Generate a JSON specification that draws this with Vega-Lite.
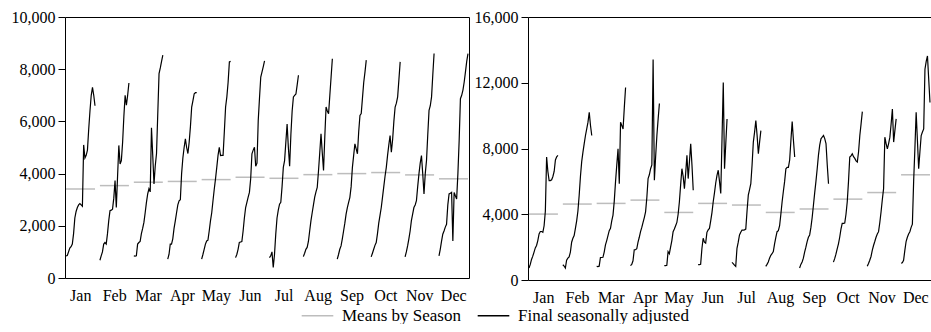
{
  "$schema": "https://vega.github.io/schema/vega-lite/v6.json",
  "padding": {"left": 10, "top": 8, "right": 0, "bottom": 0},
  "spacing": 2,
  "config": {
    "font": "Liberation Serif",
    "view": {"stroke": "#000000", "strokeWidth": 1},
    "axis": {"labelFont": "Liberation Serif", "labelFontSize": 16, "labelColor": "#000000", "grid": false, "title": null, "domain": false, "tickColor": "#000000"},
    "axisX": {"labelOverlap": false, "labelFlush": false, "ticks": false, "labelPadding": 9},
    "legend": {"labelFont": "Liberation Serif", "labelFontSize": 17, "labelColor": "#000000", "labelLimit": 400, "orient": "none", "legendX": 236, "legendY": 282, "direction": "horizontal", "title": null, "symbolType": "stroke", "symbolSize": 1000, "symbolStrokeWidth": 1.3, "columnPadding": 14, "labelOffset": 8}
  },
  "datasets": {
    "L": [
      {"m":0,"i":0,"v":850},{"m":0,"i":1,"v":860},{"m":0,"i":2,"v":1000},{"m":0,"i":3,"v":1150},{"m":0,"i":4,"v":1200},{"m":0,"i":5,"v":1300},{"m":0,"i":6,"v":1700},{"m":0,"i":7,"v":2300},{"m":0,"i":8,"v":2550},{"m":0,"i":9,"v":2700},{"m":0,"i":10,"v":2800},{"m":0,"i":11,"v":2850},{"m":0,"i":12,"v":2800},{"m":0,"i":13,"v":2750},{"m":0,"i":14,"v":5100},{"m":0,"i":15,"v":4600},{"m":0,"i":16,"v":4700},{"m":0,"i":17,"v":4900},{"m":0,"i":18,"v":5700},{"m":0,"i":19,"v":6400},{"m":0,"i":20,"v":7000},{"m":0,"i":21,"v":7300},{"m":0,"i":22,"v":7000},{"m":0,"i":23,"v":6600},
      {"m":1,"i":0,"v":680},{"m":1,"i":1,"v":850},{"m":1,"i":2,"v":1000},{"m":1,"i":3,"v":1300},{"m":1,"i":4,"v":1360},{"m":1,"i":5,"v":1300},{"m":1,"i":6,"v":1700},{"m":1,"i":7,"v":2200},{"m":1,"i":8,"v":2580},{"m":1,"i":9,"v":2600},{"m":1,"i":10,"v":2640},{"m":1,"i":11,"v":3060},{"m":1,"i":12,"v":3730},{"m":1,"i":13,"v":2700},{"m":1,"i":14,"v":3900},{"m":1,"i":15,"v":5080},{"m":1,"i":16,"v":4370},{"m":1,"i":17,"v":4500},{"m":1,"i":18,"v":5200},{"m":1,"i":19,"v":6200},{"m":1,"i":20,"v":7000},{"m":1,"i":21,"v":6620},{"m":1,"i":22,"v":7000},{"m":1,"i":23,"v":7470},
      {"m":2,"i":0,"v":850},{"m":2,"i":1,"v":840},{"m":2,"i":2,"v":850},{"m":2,"i":3,"v":1300},{"m":2,"i":4,"v":1360},{"m":2,"i":5,"v":1400},{"m":2,"i":6,"v":1700},{"m":2,"i":7,"v":1900},{"m":2,"i":8,"v":2130},{"m":2,"i":9,"v":2500},{"m":2,"i":10,"v":2900},{"m":2,"i":11,"v":3220},{"m":2,"i":12,"v":3420},{"m":2,"i":13,"v":3300},{"m":2,"i":14,"v":5760},{"m":2,"i":15,"v":4700},{"m":2,"i":16,"v":3600},{"m":2,"i":17,"v":4300},{"m":2,"i":18,"v":4770},{"m":2,"i":19,"v":6300},{"m":2,"i":20,"v":7830},{"m":2,"i":21,"v":8050},{"m":2,"i":22,"v":8300},{"m":2,"i":23,"v":8540},
      {"m":3,"i":0,"v":720},{"m":3,"i":1,"v":900},{"m":3,"i":2,"v":1300},{"m":3,"i":3,"v":1300},{"m":3,"i":4,"v":1500},{"m":3,"i":5,"v":1900},{"m":3,"i":6,"v":2190},{"m":3,"i":7,"v":2500},{"m":3,"i":8,"v":2800},{"m":3,"i":9,"v":2960},{"m":3,"i":10,"v":3000},{"m":3,"i":11,"v":4000},{"m":3,"i":12,"v":4600},{"m":3,"i":13,"v":5000},{"m":3,"i":14,"v":5330},{"m":3,"i":15,"v":5000},{"m":3,"i":16,"v":4770},{"m":3,"i":17,"v":5200},{"m":3,"i":18,"v":5800},{"m":3,"i":19,"v":6550},{"m":3,"i":20,"v":6800},{"m":3,"i":21,"v":7060},{"m":3,"i":22,"v":7100},{"m":3,"i":23,"v":7100},
      {"m":4,"i":0,"v":720},{"m":4,"i":1,"v":900},{"m":4,"i":2,"v":1100},{"m":4,"i":3,"v":1300},{"m":4,"i":4,"v":1420},{"m":4,"i":5,"v":1450},{"m":4,"i":6,"v":1800},{"m":4,"i":7,"v":2190},{"m":4,"i":8,"v":2500},{"m":4,"i":9,"v":2960},{"m":4,"i":10,"v":3400},{"m":4,"i":11,"v":3800},{"m":4,"i":12,"v":4240},{"m":4,"i":13,"v":4700},{"m":4,"i":14,"v":5010},{"m":4,"i":15,"v":4690},{"m":4,"i":16,"v":4700},{"m":4,"i":17,"v":4700},{"m":4,"i":18,"v":5600},{"m":4,"i":19,"v":6550},{"m":4,"i":20,"v":6940},{"m":4,"i":21,"v":7500},{"m":4,"i":22,"v":8280},{"m":4,"i":23,"v":8300},
      {"m":5,"i":0,"v":780},{"m":5,"i":1,"v":900},{"m":5,"i":2,"v":1100},{"m":5,"i":3,"v":1360},{"m":5,"i":4,"v":1380},{"m":5,"i":5,"v":1400},{"m":5,"i":6,"v":1800},{"m":5,"i":7,"v":2300},{"m":5,"i":8,"v":2700},{"m":5,"i":9,"v":2900},{"m":5,"i":10,"v":3100},{"m":5,"i":11,"v":3280},{"m":5,"i":12,"v":3800},{"m":5,"i":13,"v":4760},{"m":5,"i":14,"v":4900},{"m":5,"i":15,"v":5010},{"m":5,"i":16,"v":4280},{"m":5,"i":17,"v":4400},{"m":5,"i":18,"v":6040},{"m":5,"i":19,"v":6900},{"m":5,"i":20,"v":7700},{"m":5,"i":21,"v":7900},{"m":5,"i":22,"v":8100},{"m":5,"i":23,"v":8320},
      {"m":6,"i":0,"v":780},{"m":6,"i":1,"v":850},{"m":6,"i":2,"v":1000},{"m":6,"i":3,"v":400},{"m":6,"i":4,"v":900},{"m":6,"i":5,"v":1680},{"m":6,"i":6,"v":2300},{"m":6,"i":7,"v":2600},{"m":6,"i":8,"v":2830},{"m":6,"i":9,"v":2900},{"m":6,"i":10,"v":3500},{"m":6,"i":11,"v":4240},{"m":6,"i":12,"v":4500},{"m":6,"i":13,"v":5200},{"m":6,"i":14,"v":5900},{"m":6,"i":15,"v":5000},{"m":6,"i":16,"v":4280},{"m":6,"i":17,"v":5500},{"m":6,"i":18,"v":6400},{"m":6,"i":19,"v":6940},{"m":6,"i":20,"v":7000},{"m":6,"i":21,"v":7050},{"m":6,"i":22,"v":7400},{"m":6,"i":23,"v":7770},
      {"m":7,"i":0,"v":820},{"m":7,"i":1,"v":950},{"m":7,"i":2,"v":1100},{"m":7,"i":3,"v":1170},{"m":7,"i":4,"v":1400},{"m":7,"i":5,"v":1800},{"m":7,"i":6,"v":2190},{"m":7,"i":7,"v":2500},{"m":7,"i":8,"v":2800},{"m":7,"i":9,"v":3100},{"m":7,"i":10,"v":3300},{"m":7,"i":11,"v":3470},{"m":7,"i":12,"v":4100},{"m":7,"i":13,"v":4800},{"m":7,"i":14,"v":5530},{"m":7,"i":15,"v":4800},{"m":7,"i":16,"v":4120},{"m":7,"i":17,"v":5400},{"m":7,"i":18,"v":6550},{"m":7,"i":19,"v":6400},{"m":7,"i":20,"v":6290},{"m":7,"i":21,"v":7000},{"m":7,"i":22,"v":7700},{"m":7,"i":23,"v":8400},
      {"m":8,"i":0,"v":720},{"m":8,"i":1,"v":900},{"m":8,"i":2,"v":1100},{"m":8,"i":3,"v":1230},{"m":8,"i":4,"v":1500},{"m":8,"i":5,"v":1800},{"m":8,"i":6,"v":2100},{"m":8,"i":7,"v":2450},{"m":8,"i":8,"v":2700},{"m":8,"i":9,"v":2900},{"m":8,"i":10,"v":3090},{"m":8,"i":11,"v":3500},{"m":8,"i":12,"v":4240},{"m":8,"i":13,"v":4700},{"m":8,"i":14,"v":5140},{"m":8,"i":15,"v":4950},{"m":8,"i":16,"v":4760},{"m":8,"i":17,"v":5600},{"m":8,"i":18,"v":6230},{"m":8,"i":19,"v":6300},{"m":8,"i":20,"v":6900},{"m":8,"i":21,"v":7500},{"m":8,"i":22,"v":7900},{"m":8,"i":23,"v":8350},
      {"m":9,"i":0,"v":810},{"m":9,"i":1,"v":950},{"m":9,"i":2,"v":1100},{"m":9,"i":3,"v":1250},{"m":9,"i":4,"v":1360},{"m":9,"i":5,"v":1700},{"m":9,"i":6,"v":2100},{"m":9,"i":7,"v":2400},{"m":9,"i":8,"v":2700},{"m":9,"i":9,"v":3100},{"m":9,"i":10,"v":3500},{"m":9,"i":11,"v":3900},{"m":9,"i":12,"v":4240},{"m":9,"i":13,"v":4700},{"m":9,"i":14,"v":5100},{"m":9,"i":15,"v":5460},{"m":9,"i":16,"v":4820},{"m":9,"i":17,"v":5300},{"m":9,"i":18,"v":6000},{"m":9,"i":19,"v":6550},{"m":9,"i":20,"v":6700},{"m":9,"i":21,"v":6940},{"m":9,"i":22,"v":7600},{"m":9,"i":23,"v":8280},
      {"m":10,"i":0,"v":810},{"m":10,"i":1,"v":1000},{"m":10,"i":2,"v":1230},{"m":10,"i":3,"v":1500},{"m":10,"i":4,"v":1800},{"m":10,"i":5,"v":2200},{"m":10,"i":6,"v":2450},{"m":10,"i":7,"v":2700},{"m":10,"i":8,"v":2800},{"m":10,"i":9,"v":2960},{"m":10,"i":10,"v":3500},{"m":10,"i":11,"v":3990},{"m":10,"i":12,"v":4400},{"m":10,"i":13,"v":4690},{"m":10,"i":14,"v":4000},{"m":10,"i":15,"v":3220},{"m":10,"i":16,"v":4000},{"m":10,"i":17,"v":4500},{"m":10,"i":18,"v":5500},{"m":10,"i":19,"v":6420},{"m":10,"i":20,"v":6600},{"m":10,"i":21,"v":6940},{"m":10,"i":22,"v":7800},{"m":10,"i":23,"v":8600},
      {"m":11,"i":0,"v":850},{"m":11,"i":1,"v":1100},{"m":11,"i":2,"v":1400},{"m":11,"i":3,"v":1680},{"m":11,"i":4,"v":1800},{"m":11,"i":5,"v":1950},{"m":11,"i":6,"v":2060},{"m":11,"i":7,"v":2800},{"m":11,"i":8,"v":3220},{"m":11,"i":9,"v":3250},{"m":11,"i":10,"v":3280},{"m":11,"i":11,"v":1420},{"m":11,"i":12,"v":3280},{"m":11,"i":13,"v":3150},{"m":11,"i":14,"v":3030},{"m":11,"i":15,"v":4000},{"m":11,"i":16,"v":5270},{"m":11,"i":17,"v":6870},{"m":11,"i":18,"v":7000},{"m":11,"i":19,"v":7200},{"m":11,"i":20,"v":7510},{"m":11,"i":21,"v":7900},{"m":11,"i":22,"v":8300},{"m":11,"i":23,"v":8600}
    ],
    "R": [
      {"m":0,"i":0,"v":730},{"m":0,"i":1,"v":950},{"m":0,"i":2,"v":1250},{"m":0,"i":3,"v":1450},{"m":0,"i":4,"v":1700},{"m":0,"i":5,"v":1950},{"m":0,"i":6,"v":2100},{"m":0,"i":7,"v":2400},{"m":0,"i":8,"v":2800},{"m":0,"i":9,"v":2950},{"m":0,"i":10,"v":2950},{"m":0,"i":11,"v":2900},{"m":0,"i":12,"v":3300},{"m":0,"i":13,"v":4200},{"m":0,"i":14,"v":7480},{"m":0,"i":15,"v":6600},{"m":0,"i":16,"v":6050},{"m":0,"i":17,"v":6050},{"m":0,"i":18,"v":6100},{"m":0,"i":19,"v":6300},{"m":0,"i":20,"v":6600},{"m":0,"i":21,"v":7300},{"m":0,"i":22,"v":7500},{"m":0,"i":23,"v":7580},
      {"m":1,"i":0,"v":930},{"m":1,"i":1,"v":850},{"m":1,"i":2,"v":730},{"m":1,"i":3,"v":1200},{"m":1,"i":4,"v":1330},{"m":1,"i":5,"v":1400},{"m":1,"i":6,"v":1700},{"m":1,"i":7,"v":2300},{"m":1,"i":8,"v":2540},{"m":1,"i":9,"v":2700},{"m":1,"i":10,"v":3140},{"m":1,"i":11,"v":3600},{"m":1,"i":12,"v":4200},{"m":1,"i":13,"v":5160},{"m":1,"i":14,"v":6300},{"m":1,"i":15,"v":7200},{"m":1,"i":16,"v":7780},{"m":1,"i":17,"v":8300},{"m":1,"i":18,"v":8790},{"m":1,"i":19,"v":9200},{"m":1,"i":20,"v":9600},{"m":1,"i":21,"v":10200},{"m":1,"i":22,"v":9400},{"m":1,"i":23,"v":8790},
      {"m":2,"i":0,"v":830},{"m":2,"i":1,"v":820},{"m":2,"i":2,"v":840},{"m":2,"i":3,"v":1370},{"m":2,"i":4,"v":1370},{"m":2,"i":5,"v":1380},{"m":2,"i":6,"v":1700},{"m":2,"i":7,"v":2140},{"m":2,"i":8,"v":2400},{"m":2,"i":9,"v":2700},{"m":2,"i":10,"v":3000},{"m":2,"i":11,"v":3140},{"m":2,"i":12,"v":3600},{"m":2,"i":13,"v":3950},{"m":2,"i":14,"v":4800},{"m":2,"i":15,"v":5970},{"m":2,"i":16,"v":7000},{"m":2,"i":17,"v":7980},{"m":2,"i":18,"v":5860},{"m":2,"i":19,"v":9600},{"m":2,"i":20,"v":9400},{"m":2,"i":21,"v":9190},{"m":2,"i":22,"v":10500},{"m":2,"i":23,"v":11710},
      {"m":3,"i":0,"v":870},{"m":3,"i":1,"v":950},{"m":3,"i":2,"v":1170},{"m":3,"i":3,"v":1840},{"m":3,"i":4,"v":1840},{"m":3,"i":5,"v":1900},{"m":3,"i":6,"v":2300},{"m":3,"i":7,"v":2600},{"m":3,"i":8,"v":2940},{"m":3,"i":9,"v":3200},{"m":3,"i":10,"v":3500},{"m":3,"i":11,"v":3800},{"m":3,"i":12,"v":4150},{"m":3,"i":13,"v":5000},{"m":3,"i":14,"v":6170},{"m":3,"i":15,"v":6400},{"m":3,"i":16,"v":6770},{"m":3,"i":17,"v":7000},{"m":3,"i":18,"v":13420},{"m":3,"i":19,"v":6070},{"m":3,"i":20,"v":7500},{"m":3,"i":21,"v":8790},{"m":3,"i":22,"v":9800},{"m":3,"i":23,"v":10740},
      {"m":4,"i":0,"v":870},{"m":4,"i":1,"v":880},{"m":4,"i":2,"v":900},{"m":4,"i":3,"v":1730},{"m":4,"i":4,"v":1600},{"m":4,"i":5,"v":2000},{"m":4,"i":6,"v":2400},{"m":4,"i":7,"v":2940},{"m":4,"i":8,"v":3100},{"m":4,"i":9,"v":3300},{"m":4,"i":10,"v":3500},{"m":4,"i":11,"v":4000},{"m":4,"i":12,"v":4760},{"m":4,"i":13,"v":5800},{"m":4,"i":14,"v":6770},{"m":4,"i":15,"v":6300},{"m":4,"i":16,"v":5560},{"m":4,"i":17,"v":6500},{"m":4,"i":18,"v":7580},{"m":4,"i":19,"v":6170},{"m":4,"i":20,"v":7200},{"m":4,"i":21,"v":8280},{"m":4,"i":22,"v":7000},{"m":4,"i":23,"v":5460},
      {"m":5,"i":0,"v":930},{"m":5,"i":1,"v":930},{"m":5,"i":2,"v":950},{"m":5,"i":3,"v":1900},{"m":5,"i":4,"v":2540},{"m":5,"i":5,"v":2300},{"m":5,"i":6,"v":2240},{"m":5,"i":7,"v":2900},{"m":5,"i":8,"v":3050},{"m":5,"i":9,"v":3140},{"m":5,"i":10,"v":3600},{"m":5,"i":11,"v":4100},{"m":5,"i":12,"v":4760},{"m":5,"i":13,"v":5300},{"m":5,"i":14,"v":5900},{"m":5,"i":15,"v":6370},{"m":5,"i":16,"v":6680},{"m":5,"i":17,"v":6000},{"m":5,"i":18,"v":5260},{"m":5,"i":19,"v":8600},{"m":5,"i":20,"v":12010},{"m":5,"i":21,"v":6770},{"m":5,"i":22,"v":8300},{"m":5,"i":23,"v":9800},
      {"m":6,"i":0,"v":1070},{"m":6,"i":1,"v":1000},{"m":6,"i":2,"v":900},{"m":6,"i":3,"v":830},{"m":6,"i":4,"v":1930},{"m":6,"i":5,"v":2300},{"m":6,"i":6,"v":2740},{"m":6,"i":7,"v":2900},{"m":6,"i":8,"v":3040},{"m":6,"i":9,"v":3040},{"m":6,"i":10,"v":3050},{"m":6,"i":11,"v":3100},{"m":6,"i":12,"v":4200},{"m":6,"i":13,"v":5160},{"m":6,"i":14,"v":5500},{"m":6,"i":15,"v":5860},{"m":6,"i":16,"v":7000},{"m":6,"i":17,"v":8390},{"m":6,"i":18,"v":9000},{"m":6,"i":19,"v":9700},{"m":6,"i":20,"v":8800},{"m":6,"i":21,"v":7680},{"m":6,"i":22,"v":8400},{"m":6,"i":23,"v":9090},
      {"m":7,"i":0,"v":830},{"m":7,"i":1,"v":950},{"m":7,"i":2,"v":1100},{"m":7,"i":3,"v":1330},{"m":7,"i":4,"v":1500},{"m":7,"i":5,"v":1600},{"m":7,"i":6,"v":1730},{"m":7,"i":7,"v":2200},{"m":7,"i":8,"v":2600},{"m":7,"i":9,"v":2940},{"m":7,"i":10,"v":3000},{"m":7,"i":11,"v":3300},{"m":7,"i":12,"v":4000},{"m":7,"i":13,"v":4760},{"m":7,"i":14,"v":5400},{"m":7,"i":15,"v":6000},{"m":7,"i":16,"v":6770},{"m":7,"i":17,"v":6850},{"m":7,"i":18,"v":6850},{"m":7,"i":19,"v":7300},{"m":7,"i":20,"v":8500},{"m":7,"i":21,"v":9640},{"m":7,"i":22,"v":8500},{"m":7,"i":23,"v":7480},
      {"m":8,"i":0,"v":730},{"m":8,"i":1,"v":950},{"m":8,"i":2,"v":1100},{"m":8,"i":3,"v":1330},{"m":8,"i":4,"v":1700},{"m":8,"i":5,"v":2000},{"m":8,"i":6,"v":2340},{"m":8,"i":7,"v":2600},{"m":8,"i":8,"v":2740},{"m":8,"i":9,"v":3200},{"m":8,"i":10,"v":3800},{"m":8,"i":11,"v":4550},{"m":8,"i":12,"v":5300},{"m":8,"i":13,"v":6000},{"m":8,"i":14,"v":6770},{"m":8,"i":15,"v":7600},{"m":8,"i":16,"v":8200},{"m":8,"i":17,"v":8590},{"m":8,"i":18,"v":8700},{"m":8,"i":19,"v":8790},{"m":8,"i":20,"v":8600},{"m":8,"i":21,"v":8300},{"m":8,"i":22,"v":7000},{"m":8,"i":23,"v":5860},
      {"m":9,"i":0,"v":1090},{"m":9,"i":1,"v":1300},{"m":9,"i":2,"v":1570},{"m":9,"i":3,"v":1900},{"m":9,"i":4,"v":2200},{"m":9,"i":5,"v":2600},{"m":9,"i":6,"v":3100},{"m":9,"i":7,"v":3450},{"m":9,"i":8,"v":3450},{"m":9,"i":9,"v":3470},{"m":9,"i":10,"v":4000},{"m":9,"i":11,"v":4760},{"m":9,"i":12,"v":6000},{"m":9,"i":13,"v":7480},{"m":9,"i":14,"v":7550},{"m":9,"i":15,"v":7680},{"m":9,"i":16,"v":7500},{"m":9,"i":17,"v":7400},{"m":9,"i":18,"v":7250},{"m":9,"i":19,"v":7180},{"m":9,"i":20,"v":7800},{"m":9,"i":21,"v":8790},{"m":9,"i":22,"v":9500},{"m":9,"i":23,"v":10240},
      {"m":10,"i":0,"v":830},{"m":10,"i":1,"v":1000},{"m":10,"i":2,"v":1200},{"m":10,"i":3,"v":1430},{"m":10,"i":4,"v":1800},{"m":10,"i":5,"v":2100},{"m":10,"i":6,"v":2340},{"m":10,"i":7,"v":2600},{"m":10,"i":8,"v":2800},{"m":10,"i":9,"v":2940},{"m":10,"i":10,"v":3500},{"m":10,"i":11,"v":4150},{"m":10,"i":12,"v":4900},{"m":10,"i":13,"v":5560},{"m":10,"i":14,"v":8690},{"m":10,"i":15,"v":8300},{"m":10,"i":16,"v":7980},{"m":10,"i":17,"v":8300},{"m":10,"i":18,"v":8690},{"m":10,"i":19,"v":9500},{"m":10,"i":20,"v":10400},{"m":10,"i":21,"v":8390},{"m":10,"i":22,"v":9100},{"m":10,"i":23,"v":9800},
      {"m":11,"i":0,"v":1030},{"m":11,"i":1,"v":1050},{"m":11,"i":2,"v":1200},{"m":11,"i":3,"v":1800},{"m":11,"i":4,"v":2340},{"m":11,"i":5,"v":2600},{"m":11,"i":6,"v":2800},{"m":11,"i":7,"v":2940},{"m":11,"i":8,"v":3200},{"m":11,"i":9,"v":3400},{"m":11,"i":10,"v":6000},{"m":11,"i":11,"v":8000},{"m":11,"i":12,"v":10200},{"m":11,"i":13,"v":8500},{"m":11,"i":14,"v":6770},{"m":11,"i":15,"v":7800},{"m":11,"i":16,"v":8790},{"m":11,"i":17,"v":9000},{"m":11,"i":18,"v":9190},{"m":11,"i":19,"v":12820},{"m":11,"i":20,"v":13300},{"m":11,"i":21,"v":13630},{"m":11,"i":22,"v":12200},{"m":11,"i":23,"v":10800}
    ],
    "LM": [
      {"m":0,"v":3410},{"m":1,"v":3540},{"m":2,"v":3670},{"m":3,"v":3700},{"m":4,"v":3770},{"m":5,"v":3860},{"m":6,"v":3820},{"m":7,"v":3960},{"m":8,"v":4000},{"m":9,"v":4040},{"m":10,"v":3950},{"m":11,"v":3800}
    ],
    "RM": [
      {"m":0,"v":4010},{"m":1,"v":4620},{"m":2,"v":4660},{"m":3,"v":4860},{"m":4,"v":4110},{"m":5,"v":4660},{"m":6,"v":4560},{"m":7,"v":4110},{"m":8,"v":4320},{"m":9,"v":4920},{"m":10,"v":5320},{"m":11,"v":6400}
    ]
  },
  "hconcat": [
    {
      "width": 404,
      "height": 261,
      "encoding": {
        "x": {"type": "quantitative", "scale": {"domain": [-0.03, 11.885], "nice": false, "zero": false},
              "axis": {"values": [0.42,1.42,2.42,3.42,4.42,5.42,6.42,7.42,8.42,9.42,10.42,11.42], "labelExpr": "['Jan','Feb','Mar','Apr','May','Jun','Jul','Aug','Sep','Oct','Nov','Dec'][round(datum.value - 0.42)]", "ticks": false, "labelPadding": 9, "labelOverlap": false, "labelFlush": false}},
        "y": {"field": "v", "type": "quantitative", "scale": {"domain": [0, 10000], "nice": false},
              "axis": {"values": [0,2000,4000,6000,8000,10000], "format": ",d", "tickSize": 7, "labelPadding": 3}}
      },
      "layer": [
        {
          "data": {"name": "LM"},
          "transform": [{"calculate": "datum.m", "as": "x"}, {"calculate": "datum.m + 0.855", "as": "x2"}],
          "mark": {"type": "rule", "strokeWidth": 1.5},
          "encoding": {
            "x": {"field": "x", "type": "quantitative"},
            "x2": {"field": "x2"},
            "color": {"datum": "Means by Season", "type": "nominal", "scale": {"domain": ["Means by Season", "Final seasonally adjusted"], "range": ["#bdbdbd", "#000000"]}}
          }
        },
        {
          "data": {"name": "L"},
          "transform": [{"calculate": "datum.m + datum.i * 0.855 / 23", "as": "x"}],
          "mark": {"type": "line", "strokeWidth": 1.2},
          "encoding": {
            "x": {"field": "x", "type": "quantitative"},
            "detail": {"field": "m", "type": "nominal"},
            "order": {"field": "i", "type": "quantitative"},
            "color": {"datum": "Final seasonally adjusted", "type": "nominal"}
          }
        }
      ]
    },
    {
      "width": 403,
      "height": 263,
      "encoding": {
        "x": {"type": "quantitative", "scale": {"domain": [-0.03, 11.885], "nice": false, "zero": false},
              "axis": {"values": [0.42,1.42,2.42,3.42,4.42,5.42,6.42,7.42,8.42,9.42,10.42,11.42], "labelExpr": "['Jan','Feb','Mar','Apr','May','Jun','Jul','Aug','Sep','Oct','Nov','Dec'][round(datum.value - 0.42)]", "ticks": false, "labelPadding": 9, "labelOverlap": false, "labelFlush": false}},
        "y": {"field": "v", "type": "quantitative", "scale": {"domain": [0, 16000], "nice": false},
              "axis": {"values": [0,4000,8000,12000,16000], "format": ",d", "tickSize": 7, "labelPadding": 3}}
      },
      "layer": [
        {
          "data": {"name": "RM"},
          "transform": [{"calculate": "datum.m", "as": "x"}, {"calculate": "datum.m + 0.855", "as": "x2"}],
          "mark": {"type": "rule", "strokeWidth": 1.5},
          "encoding": {
            "x": {"field": "x", "type": "quantitative"},
            "x2": {"field": "x2"},
            "color": {"datum": "Means by Season", "type": "nominal"}
          }
        },
        {
          "data": {"name": "R"},
          "transform": [{"calculate": "datum.m + datum.i * 0.855 / 23", "as": "x"}],
          "mark": {"type": "line", "strokeWidth": 1.2},
          "encoding": {
            "x": {"field": "x", "type": "quantitative"},
            "detail": {"field": "m", "type": "nominal"},
            "order": {"field": "i", "type": "quantitative"},
            "color": {"datum": "Final seasonally adjusted", "type": "nominal"}
          }
        }
      ]
    }
  ],
  "resolve": {"scale": {"x": "independent", "y": "independent", "color": "shared"}, "legend": {"color": "shared"}}
}
